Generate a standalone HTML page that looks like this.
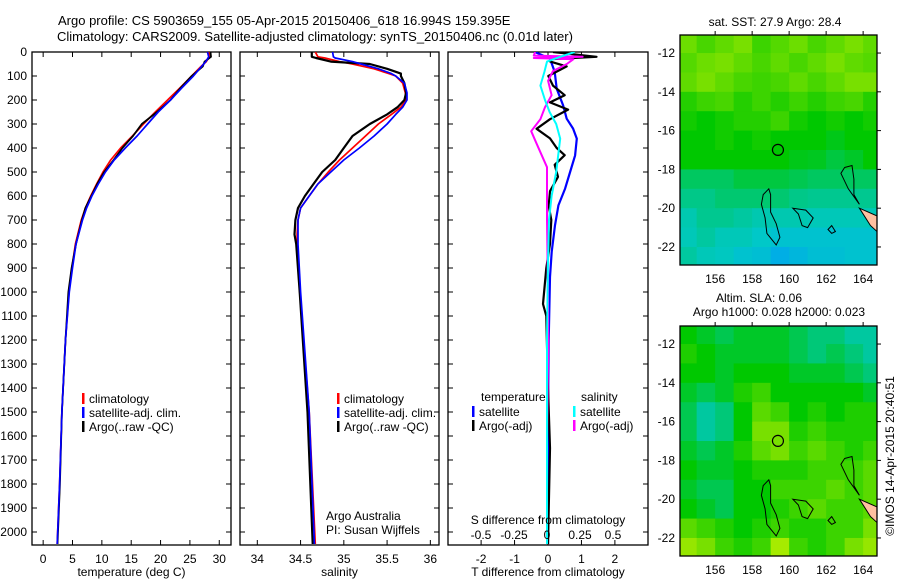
<!DOCTYPE html>
<html><head><meta charset="utf-8">
<style>
html,body{margin:0;padding:0;background:#fff;}
svg{display:block;font-family:"Liberation Sans",sans-serif;}
text{fill:#000;}
</style></head>
<body>
<svg id="c" width="900" height="580" viewBox="0 0 900 580" xmlns="http://www.w3.org/2000/svg">
<text x="58" y="25" font-size="13">Argo profile: CS 5903659_155 05-Apr-2015 20150406_618 16.994S 159.395E</text>
<text x="57" y="41" font-size="13">Climatology: CARS2009. Satellite-adjusted climatology: synTS_20150406.nc (0.01d later)</text>
<g id="g"></g>
</svg>
<script>
// ---------- data ----------
const depthTicks=[0,100,200,300,400,500,600,700,800,900,1000,1100,1200,1300,1400,1500,1600,1700,1800,1900,2000];
const tempTicks=[0,5,10,15,20,25,30];
const salTicks=[34,34.5,35,35.5,36];
const tdiffTicks=[-2,-1,0,1,2];
const sdiffTicks=[-0.5,-0.25,0,0.25,0.5];
const sdiffLabels=["-0.5","-0.25","0","0.25","0.5"];
const lonTicks=[156,158,160,162,164];
const latTicks=[-12,-14,-16,-18,-20,-22];

const tClimDepth=[0,20,40,60,100,150,200,250,300,350,400,450,500,550,600,650,700,800,900,1000,1200,1500,1800,2050];
const tClim=[28.3,28.3,27.8,26.9,25.3,23.3,21.2,19.1,17.1,15.2,13.2,11.5,10.2,9.1,8.1,7.2,6.5,5.5,4.9,4.4,3.8,3.2,2.8,2.4];
const tSat=[28.0,28.2,27.7,27.0,25.6,23.6,21.7,19.6,17.8,16.0,14.0,12.1,10.6,9.4,8.3,7.4,6.7,5.6,5.0,4.45,3.8,3.2,2.8,2.4];
const tArgo=[28.5,28.6,27.5,27.2,25.3,23.4,21.7,19.4,16.8,15.3,13.5,12.0,10.4,9.2,8.2,7.2,6.6,5.6,4.85,4.3,3.8,3.2,2.85,2.45];

const sDepth=[0,20,25,40,50,70,90,100,130,170,200,230,260,300,350,400,450,500,550,600,650,700,760,800,1000,1500,2050];
const sClim=[34.67,34.7,34.78,34.95,35.1,35.35,35.52,35.6,35.68,35.71,35.72,35.66,35.55,35.4,35.25,35.1,34.95,34.82,34.7,34.6,34.5,34.47,34.46,34.46,34.49,34.6,34.67];
const sSat=[34.87,34.88,34.9,35.1,35.2,35.4,35.55,35.6,35.7,35.73,35.73,35.68,35.6,35.5,35.35,35.18,35.0,34.85,34.7,34.6,34.5,34.47,34.47,34.47,34.5,34.6,34.66];
const sArgo=[34.63,34.63,34.68,34.85,35.3,35.5,35.66,35.66,35.7,35.72,35.7,35.62,35.5,35.3,35.1,35.0,34.9,34.75,34.65,34.55,34.47,34.44,34.43,34.45,34.49,34.58,34.64];

const dTSatDepth=[0,28,83,153,222,278,319,361,431,500,569,639,722,833,937,1200,1500,2050];
const dTSat=[-0.39,0.06,0.2,0.26,0.45,0.56,0.75,0.86,0.81,0.66,0.51,0.31,0.21,0.11,0.06,0.02,0.0,0.0];
const dTArgoDepth=[0,20,30,40,60,100,140,180,210,240,280,320,360,400,430,470,520,580,640,700,800,900,1050,1100,1400,1650,2050];
const dTArgo=[0.15,1.45,0.1,0.07,0.56,0.01,0.15,0.5,0.06,0.6,0.06,-0.34,0.06,0.26,0.5,0.2,0.3,0.06,0.02,0.1,0.06,-0.05,-0.15,-0.05,0.0,0.06,0.0];
const dSSatDepth=[0,20,40,83,140,200,250,300,361,430,500,600,700,900,1200,2050];
const dSSat=[0.21,0.1,0.0,-0.02,-0.05,-0.015,0.02,0.07,0.1,0.085,0.07,0.035,0.015,0.007,0.0,0.0];
const dSArgoDepth=[0,15,20,25,30,50,80,120,180,230,280,330,380,430,480,550,700,900,1200,1600,2050];
const dSArgo=[-0.09,-0.1,0.27,-0.1,0.2,0.15,0.045,0.008,0.035,-0.015,-0.05,-0.12,-0.08,-0.04,0.0,0.0,0.0,0.005,0.01,0.0,0.0];

const sstGrid=[
[.68,.62,.66,.7,.6,.64,.68,.62,.66,.7,.66],
[.64,.68,.7,.66,.62,.66,.62,.66,.7,.66,.64],
[.66,.7,.66,.62,.6,.62,.66,.62,.66,.7,.7],
[.56,.6,.62,.56,.6,.56,.6,.56,.6,.62,.56],
[.53,.5,.53,.56,.56,.6,.53,.5,.53,.5,.53],
[.5,.5,.53,.5,.53,.5,.5,.5,.47,.5,.5],
[.5,.5,.5,.5,.5,.5,.47,.46,.42,.45,.5],
[.38,.38,.38,.42,.42,.42,.4,.38,.38,.38,.38],
[.33,.33,.36,.36,.36,.36,.33,.32,.32,.32,.32],
[.28,.32,.32,.3,.28,.28,.28,.27,.27,.27,.27],
[.27,.3,.27,.27,.25,.22,.22,.22,.22,.22,.22],
[.3,.27,.26,.22,.2,.12,.16,.2,.2,.22,.22]];
const slaGrid=[
[.5,.45,.4,.45,.45,.45,.4,.35,.35,.3,.3],
[.55,.5,.45,.45,.45,.45,.4,.35,.4,.35,.3],
[.5,.5,.45,.5,.5,.5,.45,.45,.45,.4,.35],
[.45,.4,.45,.55,.6,.5,.5,.5,.5,.5,.45],
[.4,.3,.35,.5,.65,.6,.5,.55,.5,.55,.55],
[.4,.3,.35,.5,.7,.7,.55,.6,.55,.55,.55],
[.45,.4,.45,.55,.65,.7,.6,.65,.6,.55,.6],
[.5,.45,.45,.5,.55,.55,.55,.6,.6,.6,.65],
[.45,.4,.4,.5,.5,.6,.6,.6,.65,.6,.65],
[.5,.45,.4,.5,.5,.55,.6,.65,.6,.6,.65],
[.65,.6,.55,.5,.55,.6,.55,.55,.6,.6,.7],
[.75,.7,.6,.55,.6,.8,.6,.55,.6,.7,.75]];
const reef1=[[158.9,-19.0],[158.6,-19.3],[158.5,-19.8],[158.7,-20.5],[158.8,-21.3],[159.3,-21.9],[159.5,-21.5],[159.3,-20.8],[159.0,-20.2],[159.0,-19.3],[158.9,-19.0]];
const reef2=[[160.2,-20.0],[160.9,-20.1],[161.3,-20.5],[161.0,-21.0],[160.7,-20.9],[160.5,-20.3],[160.2,-20.0]];
const reef3=[[163.0,-17.9],[163.4,-17.8],[163.5,-18.5],[163.5,-19.3],[163.8,-19.8],[163.2,-19.0],[162.8,-18.2],[163.0,-17.9]];
const reef4=[[162.1,-21.1],[162.3,-20.9],[162.5,-21.2],[162.3,-21.3],[162.1,-21.1]];
const landNC=[[163.8,-20.0],[164.75,-20.4],[164.75,-21.2],[164.4,-20.9],[163.8,-20.0]];
const argoPos=[159.395,-16.994];

// ---------- helpers ----------
const NS="http://www.w3.org/2000/svg";
const G=document.getElementById('g');
function mk(tag,attrs,parent){const e=document.createElementNS(NS,tag);for(const k in attrs)e.setAttribute(k,attrs[k]);(parent||G).appendChild(e);return e;}
function txt(x,y,s,size,anchor,parent){const t=mk('text',{x:x,y:y,'font-size':size,'text-anchor':anchor||'start'},parent);t.textContent=s;return t;}

const Y0=52, YB=545;
const yD=d=>Y0+d*0.24;

function profilePanel(name,x0,x1,vmin,vmax,ticks,labels,title){
  const g=mk('g',{});
  
  
  const sx=v=>x0+(v-vmin)/(vmax-vmin)*(x1-x0);
  const cp=mk('clipPath',{id:'cp-'+name},g);mk('rect',{x:x0,y:Y0,width:x1-x0,height:YB-Y0},cp);
  const frame=mk('rect',{x:x0,y:Y0,width:x1-x0,height:YB-Y0,fill:'none',stroke:'#000','stroke-width':1.3},g);
  
  
  if(ticks){ticks.forEach((v,i)=>{const x=sx(v);
    mk('line',{x1:x,x2:x,y1:YB,y2:YB-5,stroke:'#000'},g);
    mk('line',{x1:x,x2:x,y1:Y0,y2:Y0+5,stroke:'#000'},g);
    const t=txt(x,563,labels?labels[i]:String(v),12,'middle',g);
    
    
  });}
  depthTicks.forEach(d=>{const y=yD(d);
    mk('line',{x1:x0,x2:x0+5,y1:y,y2:y,stroke:'#000'},g);
    mk('line',{x1:x1,x2:x1-5,y1:y,y2:y,stroke:'#000'},g);});
  if(title){const t=txt((x0+x1)/2,576,title,12,'middle',g);
    
    }
  const lg=mk('g',{'clip-path':'url(#cp-'+name+')'},g);
  return {g:g,lg:lg,sx:sx};
}
function series(p,depths,vals,color,w,name){
  const pts=depths.map((d,i)=>p.sx(vals[i]).toFixed(1)+','+yD(d).toFixed(1)).join(' ');
  const l=mk('polyline',{points:pts,fill:'none',stroke:color,'stroke-width':w,'stroke-linejoin':'round'},p.lg);
  
  
}
function legendEntry(x,y,color,label,name){
  mk('rect',{x:x,y:y-10,width:2.5,height:11,fill:color});
  const t=txt(x+7,y,label,12);
  
  
}

depthTicks.forEach(d=>{const t=txt(27,yD(d)+4,String(d),12,'end');
  
  });

const p1=profilePanel('temperature',32,231,-1.9,32.0,tempTicks,null,'temperature (deg C)');
series(p1,tClimDepth,tClim,'#f00',1.7,'temp-climatology-line');
series(p1,tClimDepth,tArgo,'#000',1.8,'temp-argo-line');
series(p1,tClimDepth,tSat,'#00f',1.7,'temp-satellite-line');
legendEntry(82,403,'#f00','climatology','temp-legend-climatology');
legendEntry(82,417,'#00f','satellite-adj. clim.','temp-legend-satellite');
legendEntry(82,431,'#000','Argo(..raw -QC)','temp-legend-argo');

const p2=profilePanel('salinity',240,439,33.8,36.1,salTicks,null,'salinity');
series(p2,sDepth,sClim,'#f00',1.7,'sal-climatology-line');
series(p2,sDepth,sArgo,'#000',2.2,'sal-argo-line');
series(p2,sDepth,sSat,'#00f',1.7,'sal-satellite-line');
legendEntry(337,403,'#f00','climatology','sal-legend-climatology');
legendEntry(337,417,'#00f','satellite-adj. clim.','sal-legend-satellite');
legendEntry(337,431,'#000','Argo(..raw -QC)','sal-legend-argo');
const a1=txt(326,520,'Argo Australia',12);
const a2=txt(326,534,'PI: Susan Wijffels',12);

const p3=profilePanel('difference',448,648,-2.99,2.99,tdiffTicks,null,'T difference from climatology');
const p3s={lg:p3.lg,sx:v=>547+v*132};
series(p3,dTSatDepth,dTSat,'#00f',2.2,'tdiff-satellite-line');
series(p3,dTArgoDepth,dTArgo,'#000',2.2,'tdiff-argo-line');
series(p3s,dSArgoDepth,dSArgo,'#f0f',2,'sdiff-argo-line');
series(p3s,dSSatDepth,dSSat,'#0ff',2,'sdiff-satellite-line');
sdiffTicks.forEach((v,i)=>{const t=txt(p3s.sx(v),539,sdiffLabels[i],12,'middle');
  });
const st=txt(548,524,'S difference from climatology',12,'middle');
const lt1=txt(481,401,'temperature',12);
const lt2=txt(581,401,'salinity',12);
legendEntry(472,416,'#00f','satellite','diff-legend-t-satellite');
legendEntry(472,430,'#000','Argo(-adj)','diff-legend-t-argo');
legendEntry(573,416,'#0ff','satellite','diff-legend-s-satellite');
legendEntry(573,430,'#f0f','Argo(-adj)','diff-legend-s-argo');

function cmap(v){const st=[[0,[0,150,255]],[0.25,[0,200,200]],[0.5,[0,200,0]],[0.75,[150,230,0]],[1,[230,255,0]]];
  for(let i=1;i<st.length;i++){if(v<=st[i][0]){const a=st[i-1],b=st[i],t=(v-a[0])/(b[0]-a[0]);
    return 'rgb('+a[1].map((c,k)=>Math.round(c+(b[1][k]-c)*t)).join(',')+')';}}
  return 'rgb(230,255,0)';}
function mapPanel(name,y0,grid,titles){
  const x0=680,x1=877,y1=y0+230,lon0=154.1,lon1=164.75,lat0=-11.07,lat1=-22.93;
  const sx=l=>x0+(l-lon0)/(lon1-lon0)*(x1-x0), sy=l=>y0+(l-lat0)/(lat1-lat0)*(y1-y0);
  const g=mk('g',{});
  
  
  const cp=mk('clipPath',{id:'cp-'+name},g);mk('rect',{x:x0,y:y0,width:x1-x0,height:y1-y0},cp);
  const cg=mk('g',{'clip-path':'url(#cp-'+name+')'},g);
  grid.forEach((row,r)=>row.forEach((v,c)=>{
    const xa=sx(154+c),xb=sx(155+c),ya=sy(-11-r),yb=sy(-12-r);
    const cell=mk('rect',{x:xa,y:ya,width:xb-xa+0.6,height:yb-ya+0.6,fill:cmap(v)},cg);
    
    
  }));
  const poly=(pts,fill,n)=>{const e=mk('polygon',{points:pts.map(p=>sx(p[0]).toFixed(1)+','+sy(p[1]).toFixed(1)).join(' '),fill:fill,stroke:'#000','stroke-width':1},cg);
    };
  poly(reef1,'none','reef-contour');poly(reef2,'none','reef-contour');poly(reef3,'none','reef-contour');poly(reef4,'none','reef-contour');
  poly(landNC,'#ffc0a0','new-caledonia-land');
  const m=mk('circle',{cx:sx(argoPos[0]),cy:sy(argoPos[1]),r:5.5,fill:'none',stroke:'#000','stroke-width':1.2},cg);
  
  
  mk('rect',{x:x0,y:y0,width:x1-x0,height:y1-y0,fill:'none',stroke:'#000','stroke-width':1.3},g);
  lonTicks.forEach(l=>{const x=sx(l);mk('line',{x1:x,x2:x,y1:y0,y2:y0-4,stroke:'#000'},g);
    const t=txt(x,y1+18,String(l),12,'middle',g);});
  latTicks.forEach(l=>{const y=sy(l);mk('line',{x1:x1,x2:x1+4,y1:y,y2:y,stroke:'#000'},g);
    const t=txt(x0-5,y+4,String(l),12,'end',g);});
  titles.forEach(tt=>{const t=txt(tt[0],tt[1],tt[2],12,'middle',g);});
}
mapPanel('sst',35,sstGrid,[[775,26,'sat. SST: 27.9 Argo: 28.4']]);
mapPanel('sla',326,slaGrid,[[759,302,'Altim. SLA: 0.06'],[779,316,'Argo h1000: 0.028 h2000: 0.023']]);

const cr=txt(0,0,'©IMOS 14-Apr-2015 20:40:51',12,'middle');
cr.setAttribute('transform','translate(894,456) rotate(-90)');


</script>
</body></html>
